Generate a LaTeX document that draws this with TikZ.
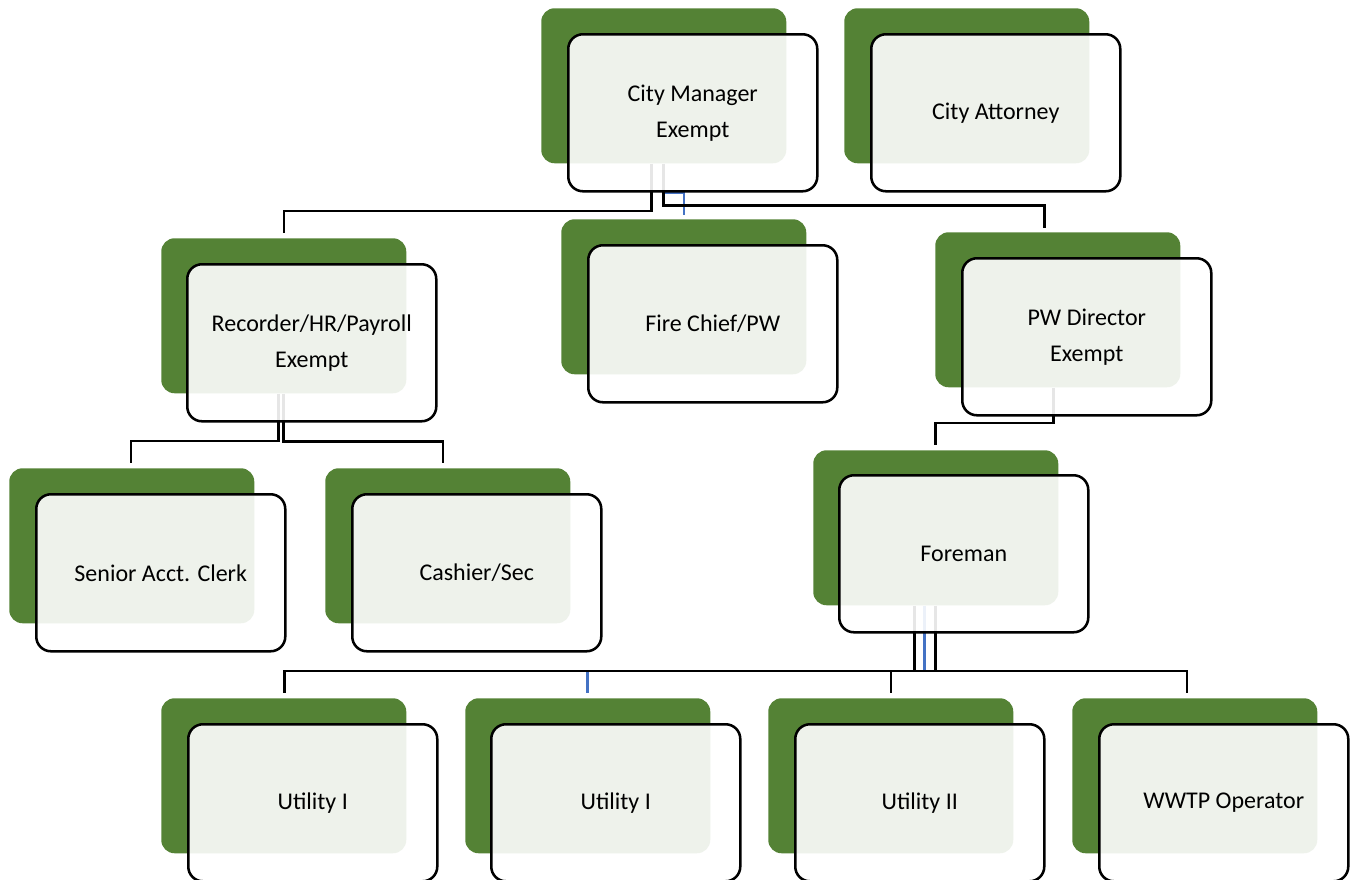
\documentclass[tikz,border=0pt]{standalone}
\usepackage{fontspec}
\setmainfont{Carlito}
\usetikzlibrary{calc}
\definecolor{leafgreen}{HTML}{548235}
\definecolor{linkblue}{HTML}{4472C4}
\tikzset{
  x=0.75pt, y=-0.75pt,
  backcard/.style={fill=leafgreen, draw=none, rounded corners=10pt,
    minimum width=183.75pt, minimum height=116.25pt, inner sep=0pt,
    anchor=north west},
  frontcard/.style={fill=white, fill opacity=0.9, text opacity=1,
    draw=black, line width=1.9pt, rounded corners=11pt,
    minimum width=186.75pt, minimum height=117.75pt, inner sep=0pt,
    anchor=north west, align=center,
    font=\fontsize{18pt}{27pt}\selectfont},
  conn/.style={draw=black, line width=1.9pt},
  bconn/.style={draw=linkblue, line width=1.9pt},
}
\begin{document}
\begin{tikzpicture}
\useasboundingbox (0,0) rectangle (1354,879);

% green backing cards
\node[backcard] (g-cm)   at (541,8)   {};
\node[backcard] (g-att)  at (844,8)   {};
\node[backcard] (g-rec)  at (161,238) {};
\node[backcard] (g-fire) at (561,219) {};
\node[backcard] (g-pw)   at (935,232) {};
\node[backcard] (g-sen)  at (9,468)   {};
\node[backcard] (g-cash) at (325,468) {};
\node[backcard] (g-fore) at (813,450) {};
\node[backcard] (g-u1)   at (161,698) {};
\node[backcard] (g-u2)   at (465,698) {};
\node[backcard] (g-u3)   at (768,698) {};
\node[backcard] (g-ww)   at (1072,698) {};

% reporting lines (blue ones first, black drawn over them)
\draw[bconn] ($(g-cm.south)+(-0.5,0)$) |- ($(g-fire.north)+(0,-26)$) -- ($(g-fire.north)+(0,-4)$);
\draw[bconn] ($(g-fore.south)+(-11.5,0)$) |- ($(g-u2.north)+(-0.5,-27)$) -- ($(g-u2.north)+(-0.5,-5)$);

\draw[conn] ($(g-cm.south)+(-12.5,0)$) |- ($(g-rec.north)+(0,-27)$) -- ($(g-rec.north)+(0,-5)$);
\draw[conn] ($(g-cm.south)+(-0.5,0)$) |- ($(g-pw.north)+(-13.5,-26.5)$) -- ($(g-pw.north)+(-13.5,-4)$);
\draw[conn] ($(g-rec.south)+(-5.5,0)$) |- ($(g-sen.north)+(-1,-27)$) -- ($(g-sen.north)+(-1,-5)$);
\draw[conn] ($(g-rec.south)+(-0.5,0)$) |- ($(g-cash.north)+(-5,-26.5)$) -- ($(g-cash.north)+(-5,-5)$);
\draw[conn] ($(g-pw.south)+(-4.5,0)$) |- ($(g-fore.north)+(-0.5,-27)$) -- ($(g-fore.north)+(-0.5,-5)$);
\draw[conn] ($(g-fore.south)+(-21.5,0)$) |- ($(g-u1.north)+(0.5,-27)$) -- ($(g-u1.north)+(0.5,-5)$);
\draw[conn] ($(g-fore.south)+(-0.5,0)$) |- ($(g-u3.north)+(0,-27)$) -- ($(g-u3.north)+(0,-5)$);
\draw[conn] ($(g-fore.south)+(-0.5,0)$) |- ($(g-ww.north)+(-8,-27)$) -- ($(g-ww.north)+(-8,-5)$);

% front cards with the titles
\node[frontcard] (cm)   at (567,33)   {City Manager\\Exempt};
\node[frontcard] (att)  at (870,33)   {City Attorney};
\node[frontcard] (rec)  at (186,263)  {Recorder/HR/Payroll\\Exempt};
\node[frontcard] (fire) at (587,244)  {Fire Chief/PW};
\node[frontcard] (pw)   at (961,257)  {PW Director\\Exempt};
\node[frontcard] (sen)  at (35,493)   {Senior Acct. Clerk};
\node[frontcard] (cash) at (351,493)  {Cashier/Sec};
\node[frontcard] (fore) at (838,474)  {Foreman};
\node[frontcard] (u1)   at (187,723)  {Utility I};
\node[frontcard] (u2)   at (490,723)  {Utility I};
\node[frontcard] (u3)   at (794,723)  {Utility II};
\node[frontcard] (ww)   at (1098,723) {WWTP Operator};
\end{tikzpicture}
\end{document}
